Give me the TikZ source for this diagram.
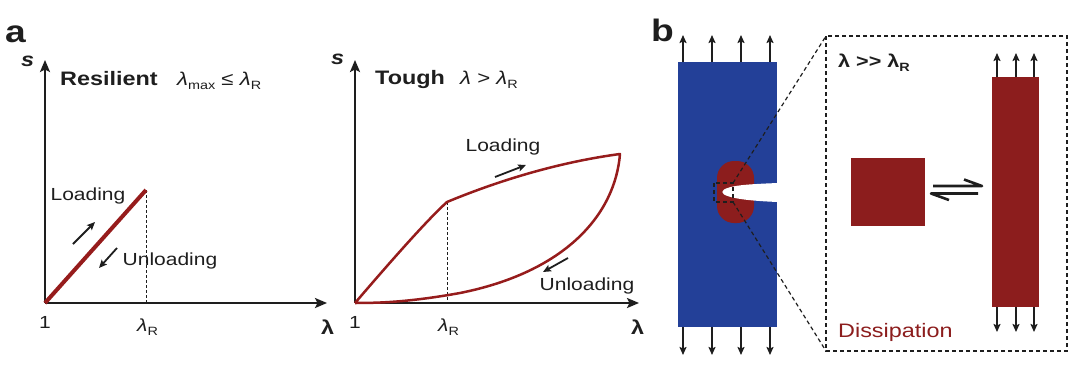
\documentclass[tikz,border=0pt]{standalone}
\usepackage{fontspec}
\setmainfont{Liberation Sans}
\usepackage{graphicx}
\usetikzlibrary{arrows.meta}
\definecolor{dred}{RGB}{140,29,29}
\definecolor{cred}{RGB}{150,28,28}
\definecolor{sblue}{RGB}{35,64,152}
\definecolor{ink}{RGB}{30,30,30}
\newcommand{\hw}[1]{\scalebox{1.2}[1]{#1}}
\newcommand{\fsz}[1]{\fontsize{#1}{#1}\selectfont}
\newcommand{\lsub}[1]{{\itshape λ}\raisebox{-0.5ex}{\fsz{12}\mdseries\upshape #1}}
\begin{document}
\begin{tikzpicture}[x=1pt,y=-1pt,
  axis/.style={line width=2.2pt,draw=ink,-{Stealth[length=12pt,width=10pt,inset=2.5pt]}},
  smallarr/.style={line width=1.8pt,draw=ink,-{Stealth[length=8pt,width=7pt,inset=1.5pt]}},
  guide/.style={line width=1pt,draw=ink,dash pattern=on 3pt off 2pt},
  zoomline/.style={line width=1.2pt,draw=ink,dash pattern=on 4pt off 3pt},
  txt/.style={font=\fsz{17.5},inner sep=0,text=ink},
  head/.style={font=\fsz{19.5}\bfseries,inner sep=0,text=ink},
  big/.style={font=\fsz{31}\bfseries,inner sep=0,text=ink},
  curve/.style={line width=2.5pt,draw=cred},
  eqline/.style={line width=2.6pt,draw=ink,line cap=butt,line join=round}
]
\useasboundingbox (0,0) rectangle (1080,367);

% ---------- panel a, plot 1 ----------
\node[big,anchor=base west] (la) at (5,42) {\hw{a}};
\coordinate (o1) at (45,303);
\coordinate (y1) at (45,60);
\coordinate (x1) at (327,303);
\coordinate (k1) at (146,190);
\coordinate (k1b) at (146,303);
\draw[axis] (o1) -- (y1);
\draw[axis] (o1) -- (x1);
\draw[guide] (k1) -- (k1b);
\draw[line width=4pt,draw=cred] (o1) -- (k1);
\node[head,anchor=base west] (s1) at (21,66) {\hw{\itshape s}};
\node[head,anchor=base west] (res) at (60,85) {\hw{Resilient}};
\node[txt,font=\fsz{18.5},anchor=base west] (cond1) at (177,85) {\hw{\lsub{max} ≤ \lsub{R}}};
\node[txt] (load1) at (88,196) {\hw{Loading}};
\node[txt] (unl1) at (170,261) {\hw{Unloading}};
\coordinate (a1s) at (73,244); \coordinate (a1e) at (95,222);
\coordinate (a2s) at (117,248); \coordinate (a2e) at (99,268);
\draw[smallarr] (a1s) -- (a1e);
\draw[smallarr] (a2s) -- (a2e);
\node[txt] (one1) at (45,322) {\hw{1}};
\node[txt,anchor=base west] (lr1) at (137,331) {\hw{\lsub{R}}};
\node[head,anchor=base west] (lx1) at (321,334) {\hw{λ}};

% ---------- panel a, plot 2 ----------
\coordinate (o2) at (355,303);
\coordinate (y2) at (355,60);
\coordinate (x2) at (639,303);
\coordinate (k2) at (447,202);
\coordinate (k2b) at (447,303);
\coordinate (p2) at (620,154);
\draw[axis] (o2) -- (y2);
\draw[axis] (o2) -- (x2);
\draw[guide] (k2) -- (k2b);
\draw[curve,line join=round] (o2) .. controls (385,268) and (425,222) .. (k2)
   .. controls (500,180) and (560,162) .. (p2)
   .. controls (615,215) and (565,272) .. (460,293)
   .. controls (410,302) and (380,303) .. (o2);
\node[head,anchor=base west] (s2) at (331,64) {\hw{\itshape s}};
\node[head,anchor=base west] (tough) at (375,84) {\hw{Tough}};
\node[txt,font=\fsz{18.5},anchor=base west] (cond2) at (460,84) {\hw{{\itshape λ} > \lsub{R}}};
\node[txt] (load2) at (503,147) {\hw{Loading}};
\node[txt] (unl2) at (587,286) {\hw{Unloading}};
\coordinate (a3s) at (495,177); \coordinate (a3e) at (526,165);
\coordinate (a4s) at (568,258); \coordinate (a4e) at (543,272);
\draw[smallarr] (a3s) -- (a3e);
\draw[smallarr] (a4s) -- (a4e);
\node[txt] (one2) at (355,322) {\hw{1}};
\node[txt,anchor=base west] (lr2) at (438,331) {\hw{\lsub{R}}};
\node[head,anchor=base west] (lx2) at (631,334) {\hw{λ}};

% ---------- panel b ----------
\node[big,anchor=base west] (lb) at (651,41) {\hw{b}};
\fill[sblue] (678,62) rectangle (777,327);
\fill[dred,rounded corners=17pt] (717,161) rectangle (754,223);
\fill[white] (778,183) .. controls (752,184) and (737,185) .. (729,187.5)
   .. controls (720,190) and (720,194) .. (729,196.5)
   .. controls (737,199) and (752,201) .. (778,202) -- cycle;
\foreach \x [count=\i] in {683,712,741,770}{
  \coordinate (tb\i) at (\x,62); \coordinate (tt\i) at (\x,35);
  \draw[smallarr] (tb\i) -- (tt\i);
  \coordinate (bb\i) at (\x,327); \coordinate (bt\i) at (\x,355);
  \draw[smallarr] (bb\i) -- (bt\i);
}
\coordinate (sq1) at (714,183); \coordinate (sq2) at (733,202);
\draw[zoomline] (sq1) rectangle (sq2);
\coordinate (sqtr) at (733,183); \coordinate (sqbr) at (733,202);
\coordinate (zb1) at (826,36); \coordinate (zb2) at (1067,351);
\coordinate (zbbl) at (826,351);
\draw[zoomline] (zb1) rectangle (zb2);
\draw[zoomline] (sqtr) -- (zb1);
\draw[zoomline] (sqbr) -- (zbbl);
\node[font=\fsz{18}\bfseries,inner sep=0,text=ink,anchor=base west] (cond3) at (838,67) {\hw{λ \textgreater{}\textgreater{} λ\raisebox{-0.5ex}{\fsz{12}R}}};
\fill[dred] (851,158) rectangle (925,226);
\coordinate (e1) at (933,186); \coordinate (e2) at (982,186); \coordinate (e2b) at (964,179.5);
\coordinate (e3) at (978,193.5); \coordinate (e4) at (931,193.5); \coordinate (e4b) at (949,200);
\draw[eqline] (e1) -- (e2) -- (e2b);
\draw[eqline] (e3) -- (e4) -- (e4b);
\fill[dred] (992,77) rectangle (1039,307);
\foreach \x [count=\i] in {997,1016,1034}{
  \coordinate (rt\i) at (\x,77); \coordinate (rtt\i) at (\x,53);
  \draw[smallarr] (rt\i) -- (rtt\i);
  \coordinate (rb\i) at (\x,307); \coordinate (rbb\i) at (\x,332);
  \draw[smallarr] (rb\i) -- (rbb\i);
}
\node[font=\fsz{19.5},inner sep=0,text=dred,anchor=base west] (diss) at (838,337) {\hw{Dissipation}};
\end{tikzpicture}
\end{document}
